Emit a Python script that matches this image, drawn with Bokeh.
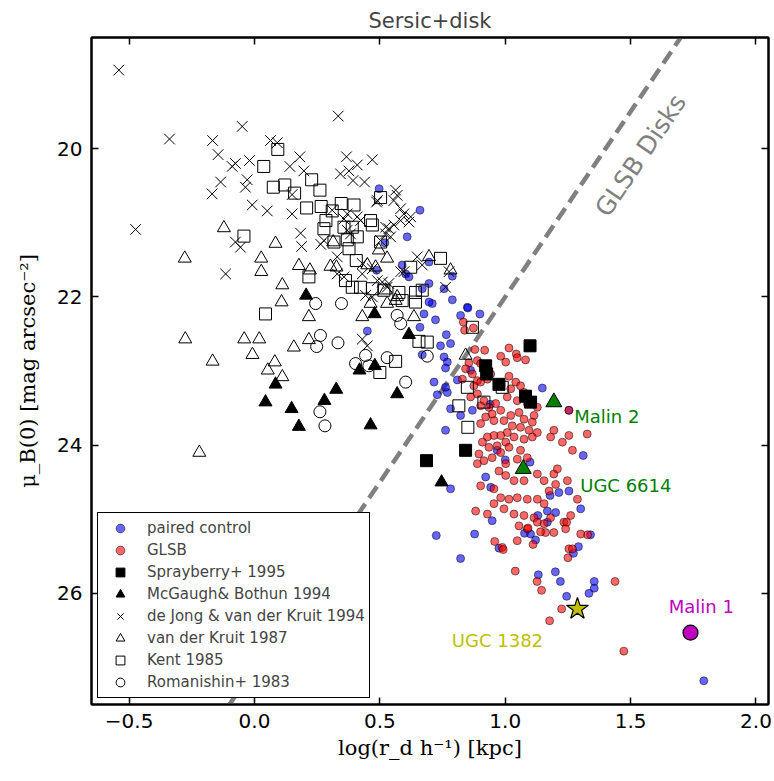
import numpy as np
from bokeh.plotting import figure
from bokeh.models import (Range1d, FixedTicker, LinearAxis, Label, Legend, LegendItem,
                          CustomJSTickFormatter)
from bokeh.embed import file_html
from bokeh.resources import INLINE

# ---------------- data (log r_d h^-1 [kpc], mu_B(0) [mag arcsec^-2]) ----------------
x_ticks = [-0.5, 0.0, 0.5, 1.0, 1.5, 2.0]
y_ticks = [20, 22, 24, 26]

control_x = [0.497,0.520,0.487,0.660,0.609,0.589,0.603,0.616,0.789,0.696,0.669,0.789,0.849,0.709,0.696,
             0.756,0.696,0.676,0.722,0.660,0.765,0.742,0.782,0.669,0.756,0.769,0.762,0.450,0.809,0.716,
             0.729,0.782,0.762,0.822,0.851,0.899,0.862,0.769,0.762,0.822,0.869,1.148,1.254,0.782,0.968,
             1.099,1.311,0.922,0.942,1.179,1.214,1.254,1.301,1.201,1.168,0.948,0.725,0.878,0.975,1.077,
             1.101,1.121,1.168,0.822,1.132,1.200,1.220,1.245,1.292,1.272,1.355,1.355,1.334,1.340,1.792,
             0.940,1.000,1.130]
control_mu = [20.54,21.27,21.64,20.83,21.19,21.57,21.69,21.73,21.72,21.82,21.89,22.04,22.14,22.09,21.53,
              21.89,22.07,22.23,22.31,22.41,22.51,22.66,22.63,22.78,22.81,22.88,22.96,22.46,23.12,23.15,
              23.32,23.51,23.80,22.25,22.15,22.23,22.99,23.29,23.22,23.60,23.53,23.23,23.53,24.59,24.07,
              24.23,24.14,24.43,24.57,24.68,24.64,24.62,24.86,24.91,24.89,25.02,25.22,25.20,25.39,25.19,
              25.20,25.28,25.04,25.53,25.75,25.71,25.84,26.04,25.37,25.46,25.84,25.93,26.00,25.21,27.18,
              23.45,24.20,24.95]

glsb_x = [0.833,0.838,0.873,0.879,0.918,1.015,1.044,0.982,1.002,1.081,1.048,0.889,0.855,0.902,0.842,
          0.869,0.889,0.829,0.875,0.902,0.929,0.942,1.015,1.042,0.982,1.022,1.061,1.075,1.008,1.048,
          1.088,1.128,1.115,0.862,0.889,0.915,0.902,0.935,0.962,0.982,0.948,0.922,0.902,0.955,0.995,
          1.022,1.055,1.075,1.108,1.095,1.061,1.028,1.008,0.982,0.955,0.929,0.909,0.935,0.968,1.002,
          1.035,1.075,1.108,1.128,1.181,1.194,1.228,1.254,
          0.895,0.915,0.889,0.948,0.982,1.015,1.061,1.088,1.048,1.002,0.975,1.002,1.035,1.075,1.128,
          1.155,1.194,1.208,1.248,1.268,1.327,1.175,1.201,0.902,0.955,0.982,1.015,1.048,1.088,1.128,
          1.155,1.035,1.075,1.115,1.181,1.234,1.261,1.288,0.955,0.882,0.929,0.995,1.055,1.088,1.128,
          1.161,1.194,1.241,1.301,0.988,1.048,1.254,
          0.958,0.992,1.091,1.141,1.111,1.155,1.245,1.254,1.268,1.250,1.329,1.040,1.127,1.145,1.438,
          1.225,1.177,1.473]
glsb_mu = [22.34,22.45,22.42,22.71,22.72,22.69,22.77,22.80,22.88,22.85,22.82,22.86,22.89,22.90,22.97,
           23.04,23.13,23.11,23.20,23.15,23.11,23.04,23.07,23.15,23.20,23.24,23.20,23.29,23.35,23.40,
           23.44,23.49,23.60,23.35,23.31,23.40,23.47,23.49,23.44,23.53,23.58,23.62,23.71,23.67,23.67,
           23.60,23.56,23.65,23.69,23.80,23.76,23.74,23.83,23.87,23.87,23.89,23.96,24.03,24.01,23.96,
           23.89,23.92,23.89,23.83,23.89,23.80,23.96,23.87,
           24.12,24.21,24.25,24.17,24.10,24.03,24.07,24.17,24.19,24.25,24.35,24.41,24.48,24.48,24.39,
           24.48,24.39,24.32,24.48,24.07,23.85,24.62,24.53,24.55,24.59,24.71,24.73,24.71,24.73,24.73,
           24.79,24.93,24.95,24.98,24.98,25.04,24.95,24.73,24.79,24.89,24.93,24.86,25.09,25.13,25.04,
           25.18,25.18,25.13,25.20,25.38,25.29,23.53,
           25.30,25.41,25.12,25.17,25.34,25.06,25.04,25.40,25.40,25.52,25.21,25.70,25.84,25.96,25.84,
           26.21,26.37,26.78]

sprayberry_x = [1.099,0.922,0.926,0.975,1.081,1.101,0.842,0.686]
sprayberry_mu = [22.66,22.93,23.04,23.18,23.34,23.42,24.07,24.21]

mcgaugh_x = [0.206,0.479,0.616,0.419,0.480,0.084,0.326,0.279,0.569,0.044,0.148,0.177,0.463,0.746]
mcgaugh_mu = [21.98,22.23,22.51,22.99,22.93,23.18,23.25,23.40,23.31,23.42,23.51,23.75,23.73,24.50]

dejong_x = [-0.541,0.334,-0.049,-0.339,-0.167,0.064,0.091,-0.145,-0.089,-0.076,-0.020,0.181,0.141,0.197,
            0.367,0.470,0.410,0.377,0.343,0.393,0.439,-0.135,-0.029,-0.036,-0.169,-0.009,0.051,0.150,
            0.150,0.310,0.487,-0.474,0.184,0.188,-0.076,-0.056,0.264,0.277,-0.115,0.370,0.410,0.523,
            0.330,0.357,0.510,
            0.423,0.357,0.370,0.383,0.330,0.430,0.470,0.430,0.490,0.529,0.443,0.470,0.430,0.450,
            0.563,0.569,0.556,0.583,0.596,0.623,0.616,0.583,0.556,0.536,0.523,0.543,0.503,0.490,0.649,
            0.669,0.596,0.762,0.776,
            0.536,0.583]
dejong_mu = [18.94,19.56,19.70,19.87,19.89,19.89,19.92,20.08,20.24,20.20,20.16,20.11,20.24,20.30,
             20.11,20.15,20.22,20.30,20.34,20.43,20.45,20.45,20.42,20.52,20.61,20.76,20.84,20.62,
             20.88,20.83,20.72,21.09,21.14,21.32,21.26,21.33,21.29,21.24,21.69,20.88,20.92,21.06,
             21.69,21.73,21.80,
             20.97,20.95,21.10,21.15,21.46,21.55,21.62,21.69,21.78,21.87,21.98,22.00,22.57,22.66,
             20.56,20.63,20.70,20.81,20.88,20.92,20.99,20.97,21.03,21.08,21.15,21.19,21.24,20.70,21.46,
             21.57,21.66,21.87,21.66,
             21.82,21.66]

vdk_x = [-0.122,-0.278,0.084,0.027,0.027,0.177,0.221,0.303,0.327,0.314,0.111,0.450,0.483,0.496,
         -0.276,-0.167,-0.041,0.019,-0.008,-0.220,
         0.529,0.108,0.217,0.463,0.529,0.569,0.636,0.430,0.157,0.217,0.081,0.053,0.111,0.696,
         0.782,0.523,0.563,0.842]
vdk_mu = [21.07,21.48,21.28,21.48,21.66,21.58,21.64,21.59,21.60,21.26,21.84,21.57,21.60,21.37,
          22.57,22.87,22.57,22.57,22.78,24.10,
          21.48,22.07,22.27,22.09,22.09,22.00,22.27,22.27,22.68,22.58,22.88,22.99,23.08,21.46,
          21.64,21.91,22.05,22.79]

kent_x = [0.093,0.037,0.075,0.121,0.160,0.228,0.261,0.208,0.266,0.346,0.397,0.503,0.310,0.285,0.277,
          0.357,0.390,0.463,0.470,-0.042,0.317,0.370,0.410,0.377,0.503,0.406,0.217,
          0.363,0.390,0.423,0.470,0.516,0.576,0.642,0.669,0.642,0.742,0.044,0.689,0.563,0.500,0.815,0.623,
          0.589,0.869,0.656,0.849,0.915,0.988,0.851]
kent_mu = [20.01,20.24,20.52,20.49,20.60,20.42,20.56,20.80,20.78,20.74,20.76,20.66,20.84,20.97,21.08,
           21.06,21.06,20.97,21.03,21.18,21.26,21.23,21.19,21.35,21.26,21.51,21.73,
           21.78,21.87,21.87,21.89,21.91,21.94,21.94,21.91,22.07,21.48,22.23,22.61,22.87,23.02,23.47,21.60,
           22.05,22.41,22.60,23.22,23.42,23.22,23.76]

roman_x = [0.244,0.347,0.263,0.248,0.333,0.569,0.583,0.443,0.403,0.456,0.529,0.603,0.689,0.261,0.281]
roman_mu = [22.09,22.09,22.52,22.67,22.62,22.25,22.36,22.79,22.90,22.93,22.82,23.15,22.80,23.55,23.74]

green_names = ["Malin 2", "UGC 6614"]
green_x = [1.194, 1.072]
green_mu = [23.42, 24.32]
malin1_x = [1.739]
malin1_mu = [26.53]
ugc1382_x = [1.288]
ugc1382_mu = [26.21]

# GLSB-disk dividing line: mu = 27 - 5 log r
glsb_line_x = [-0.2, 1.8]
glsb_line_mu = [28.0, 18.0]

x_label = "log(r_d h\u207b\u00b9) [kpc]"
y_label = "\u03bc_B(0) [mag arcsec\u207b\u00b2]"

# ---------------- figure ----------------
p = figure(width=774, height=781, output_backend="svg", toolbar_location=None,
           x_range=Range1d(-0.65, 2.05), y_range=Range1d(27.5, 18.5),
           min_border_left=91, min_border_right=6, min_border_top=37, min_border_bottom=77,
           title="Sersic+disk")
p.background_fill_color = "white"
p.border_fill_color = "white"
p.outline_line_color = "black"
p.outline_line_width = 2
p.xgrid.visible = False
p.ygrid.visible = False
p.title.align = "center"
p.title.text_font = "DejaVu Sans"
p.title.text_font_size = "21px"
p.title.text_font_style = "normal"
p.title.standoff = 10


def style_axis(ax, labels=True):
    ax.major_tick_in = 7
    ax.major_tick_out = 0
    ax.minor_tick_line_color = None
    ax.major_tick_line_width = 1.5
    ax.major_tick_line_color = "black"
    ax.axis_line_width = 2
    ax.axis_line_color = "black"
    if labels:
        ax.major_label_text_font = "DejaVu Sans"
        ax.major_label_text_font_size = "20px"
        ax.major_label_text_color = "black"
        ax.major_label_standoff = 9
        ax.axis_label_text_font = "DejaVu Serif"
        ax.axis_label_text_font_size = "21px"
        ax.axis_label_text_font_style = "normal"
        ax.axis_label_text_color = "black"
    else:
        ax.formatter = CustomJSTickFormatter(code="return '';")
        ax.major_label_text_font_size = "0px"
        ax.major_label_standoff = 0


xfmt = CustomJSTickFormatter(code="return (tick < 0 ? '\u2212' : '') + Math.abs(tick).toFixed(1);")
yfmt = CustomJSTickFormatter(code="return tick.toFixed(0);")

xa = p.xaxis[0]
xa.ticker = FixedTicker(ticks=x_ticks)
xa.formatter = xfmt
style_axis(xa)
xa.axis_label = x_label
xa.axis_label_standoff = 5

ya = p.yaxis[0]
ya.ticker = FixedTicker(ticks=y_ticks)
ya.formatter = yfmt
style_axis(ya)
ya.axis_label = y_label
ya.axis_label_standoff = 14

top = LinearAxis(ticker=FixedTicker(ticks=x_ticks))
style_axis(top, labels=False)
p.add_layout(top, "above")
right = LinearAxis(ticker=FixedTicker(ticks=y_ticks))
style_axis(right, labels=False)
p.add_layout(right, "right")

# dividing line
p.line(glsb_line_x, glsb_line_mu, line_color="#808080", line_width=4.5, line_dash="14 7")

# samples
r_ctrl = p.scatter(control_x, control_mu, marker="circle", size=8, fill_color="blue", fill_alpha=0.6,
                   line_color="black", line_alpha=0.5, line_width=1)
r_glsb = p.scatter(glsb_x, glsb_mu, marker="circle", size=8, fill_color="red", fill_alpha=0.6,
                   line_color="black", line_alpha=0.5, line_width=1)
r_spr = p.scatter(sprayberry_x, sprayberry_mu, marker="square", size=12, fill_color="black",
                  line_color="black")
r_mcg = p.scatter(mcgaugh_x, mcgaugh_mu, marker="triangle", size=13, fill_color="black",
                  line_color="black")
r_dej = p.scatter(dejong_x, dejong_mu, marker="x", size=15, line_color="black", line_width=1)
r_vdk = p.scatter(vdk_x, vdk_mu, marker="triangle", size=13, fill_color=None, line_color="black",
                  line_width=1)
r_kent = p.scatter(kent_x, kent_mu, marker="square", size=12, fill_color=None, line_color="black",
                   line_width=1)
r_rom = p.scatter(roman_x, roman_mu, marker="circle", size=12, fill_color=None, line_color="black",
                  line_width=1)

# notable galaxies
p.scatter(green_x, green_mu, marker="triangle", size=16, fill_color="#008000", line_color="black",
          line_width=1)
p.scatter(malin1_x, malin1_mu, marker="circle", size=15, fill_color="#bf00bf", line_color="black",
          line_width=1.2)
p.scatter(ugc1382_x, ugc1382_mu, marker="star", size=23, fill_color="#bfbf00", line_color="black",
          line_width=1.2)

lab_font = "DejaVu Sans"
for txt, lx, ly, col in [("Malin 2", 1.405, 23.62, "#008000"),
                         ("UGC 6614", 1.481, 24.54, "#008000"),
                         ("Malin 1", 1.782, 26.18, "#bf00bf"),
                         ("UGC 1382", 0.969, 26.63, "#bfbf00")]:
    p.add_layout(Label(x=lx, y=ly, text=txt, text_color=col, text_font=lab_font,
                       text_font_size="18px", text_align="center", text_baseline="middle"))

p.add_layout(Label(x=1.54, y=20.09, text="GLSB Disks", text_color="#808080", text_font=lab_font,
                   text_font_size="25px", text_align="center", text_baseline="middle",
                   angle=0.976))

legend = Legend(items=[LegendItem(label="paired control", renderers=[r_ctrl]),
                       LegendItem(label="GLSB", renderers=[r_glsb]),
                       LegendItem(label="Sprayberry+ 1995", renderers=[r_spr]),
                       LegendItem(label="McGaugh& Bothun 1994", renderers=[r_mcg]),
                       LegendItem(label="de Jong & van der Kruit 1994", renderers=[r_dej]),
                       LegendItem(label="van der Kruit 1987", renderers=[r_vdk]),
                       LegendItem(label="Kent 1985", renderers=[r_kent]),
                       LegendItem(label="Romanishin+ 1983", renderers=[r_rom])],
                location="bottom_left")
legend.margin = 6
legend.padding = 4
legend.spacing = 0
legend.glyph_width = 36
legend.glyph_height = 22
legend.label_height = 22
legend.label_standoff = 9
legend.label_text_font = "DejaVu Sans"
legend.label_text_font_size = "15px"
legend.border_line_color = "black"
legend.border_line_width = 1.5
legend.border_line_alpha = 1
legend.background_fill_color = "white"
legend.background_fill_alpha = 1
p.add_layout(legend)

open("out.html", "w").write(file_html(p, INLINE))
